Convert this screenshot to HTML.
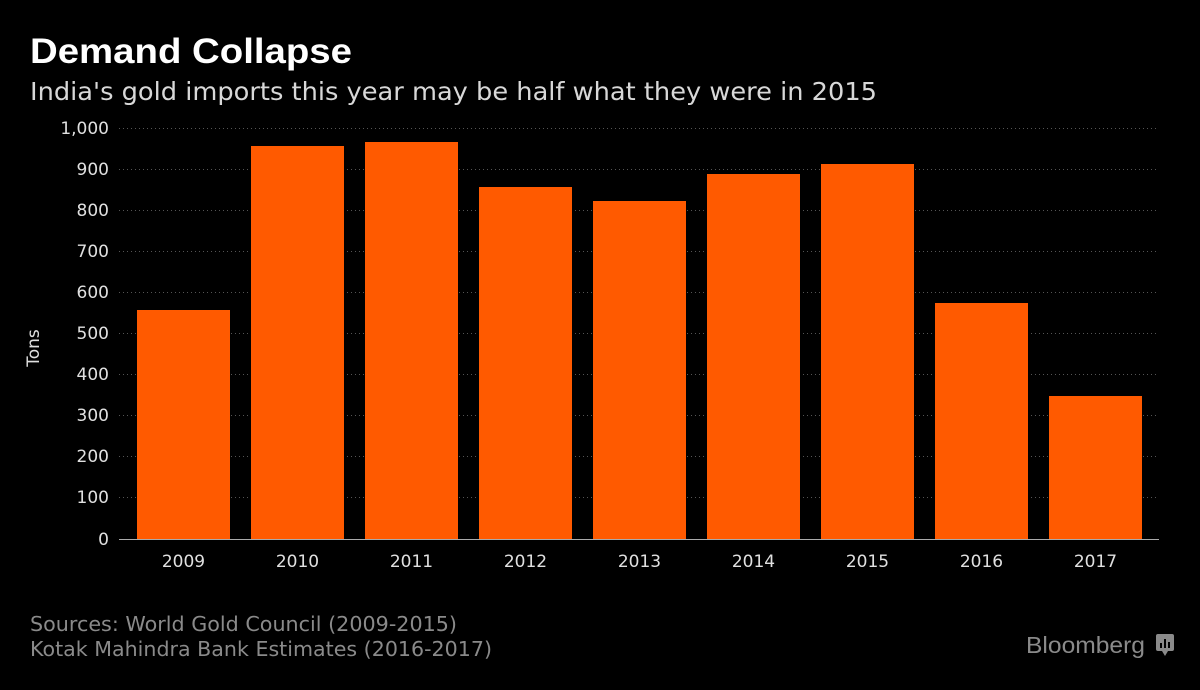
<!DOCTYPE html>
<html><head><meta charset="utf-8"><style>
html,body{margin:0;padding:0;background:#000;}
svg{display:block;font-family:"Liberation Sans","DejaVu Sans",sans-serif;}
</style></head><body>
<svg width="1200" height="690" viewBox="0 0 1200 690">
<rect width="1200" height="690" fill="#000"/>
<text x="30" y="63" fill="#fff" font-size="35" font-weight="bold" textLength="322" lengthAdjust="spacingAndGlyphs">Demand Collapse</text>
<text x="30" y="100" fill="#d8d8d8" font-size="25" font-family="DejaVu Sans, sans-serif" textLength="847" lengthAdjust="spacingAndGlyphs">India's gold imports this year may be half what they were in 2015</text>
<g stroke="#555" stroke-width="1" stroke-dasharray="1,3">
<line x1="119" x2="1158" y1="128.5" y2="128.5"/>
<line x1="119" x2="1158" y1="169.5" y2="169.5"/>
<line x1="119" x2="1158" y1="210.5" y2="210.5"/>
<line x1="119" x2="1158" y1="251.5" y2="251.5"/>
<line x1="119" x2="1158" y1="292.5" y2="292.5"/>
<line x1="119" x2="1158" y1="333.5" y2="333.5"/>
<line x1="119" x2="1158" y1="374.5" y2="374.5"/>
<line x1="119" x2="1158" y1="415.5" y2="415.5"/>
<line x1="119" x2="1158" y1="456.5" y2="456.5"/>
<line x1="119" x2="1158" y1="497.5" y2="497.5"/>
</g>
<g fill="#e0e0e0" font-size="17" text-anchor="end" font-family="DejaVu Sans, sans-serif">
<text x="109" y="134">1,000</text><text x="109" y="175">900</text><text x="109" y="216">800</text>
<text x="109" y="257">700</text><text x="109" y="298">600</text><text x="109" y="339">500</text>
<text x="109" y="380">400</text><text x="109" y="421">300</text><text x="109" y="462">200</text>
<text x="109" y="503">100</text><text x="109" y="545">0</text>
</g>
<text transform="translate(39,348) rotate(-90)" fill="#e0e0e0" font-size="17" text-anchor="middle" font-family="DejaVu Sans, sans-serif">Tons</text>
<g fill="#ff5a00">
<rect x="137" y="310" width="93" height="229"/>
<rect x="251" y="146" width="93" height="393"/>
<rect x="365" y="142" width="93" height="397"/>
<rect x="479" y="187" width="93" height="352"/>
<rect x="593" y="201" width="93" height="338"/>
<rect x="707" y="174" width="93" height="365"/>
<rect x="821" y="164" width="93" height="375"/>
<rect x="935" y="303" width="93" height="236"/>
<rect x="1049" y="396" width="93" height="143"/>
</g>
<line x1="119" x2="1159" y1="539.5" y2="539.5" stroke="#aaa" stroke-width="1"/>
<g fill="#e0e0e0" font-size="17" text-anchor="middle" font-family="DejaVu Sans, sans-serif">
<text x="183.5" y="567">2009</text><text x="297.5" y="567">2010</text><text x="411.5" y="567">2011</text>
<text x="525.5" y="567">2012</text><text x="639.5" y="567">2013</text><text x="753.5" y="567">2014</text>
<text x="867.5" y="567">2015</text><text x="981.5" y="567">2016</text><text x="1095.5" y="567">2017</text>
</g>
<g fill="#8a8a8a" font-size="20.5" font-family="DejaVu Sans, sans-serif">
<text x="30" y="631" textLength="427" lengthAdjust="spacingAndGlyphs">Sources: World Gold Council (2009-2015)</text>
<text x="30" y="656" textLength="462" lengthAdjust="spacingAndGlyphs">Kotak Mahindra Bank Estimates (2016-2017)</text>
</g>
<text x="1026" y="653" fill="#8a8a8a" font-size="23" textLength="119" lengthAdjust="spacingAndGlyphs">Bloomberg</text>
<g fill="#8a8a8a"><rect x="1156" y="634" width="18" height="17" rx="2"/><polygon points="1162,651 1168,651 1165,656"/></g>
<g fill="#000"><rect x="1160" y="643" width="2" height="5"/><rect x="1164" y="639" width="2" height="9"/><rect x="1168" y="642" width="2" height="6"/></g>
</svg>
</body></html>
